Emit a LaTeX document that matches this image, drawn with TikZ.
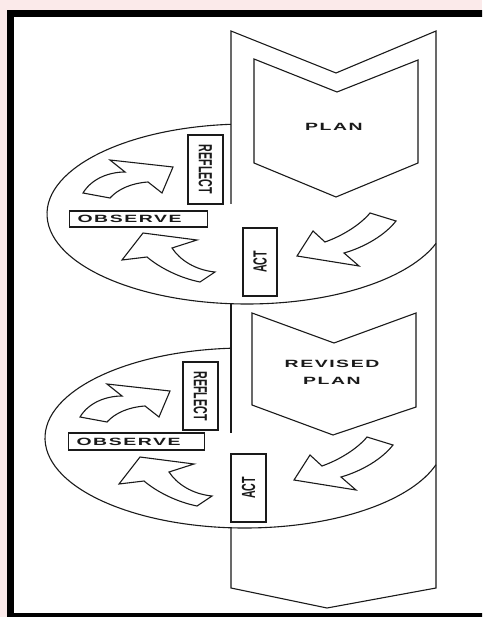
\documentclass[tikz,border=0pt]{standalone}
\usepackage{fontspec}
\usepackage{graphicx}
\usepackage{xcolor}
\usepackage{tikz}
\usetikzlibrary{calc}
\definecolor{Ink}{HTML}{1A1A1A}
\definecolor{Blush}{HTML}{FBEAEA}
\newfontfamily\widesf{Liberation Sans}[LetterSpace=8]
\newfontfamily\narrowsf{Liberation Sans}[FakeStretch=0.56]
\newcommand\widen[1]{\scalebox{1.85}[1]{#1}}
\tikzset{
  band/.style={draw=Ink, line width=1.1pt},
  blockarrow/.style={draw=Ink, line width=1.1pt, fill=white, line join=miter},
  word/.style={font=\fontsize{10.5}{17}\selectfont\widesf\bfseries, text=Ink},
  tag/.style={draw=Ink, line width=1.2pt, inner sep=0pt, text=Ink,
    font=\fontsize{19}{20}\selectfont\narrowsf\bfseries},
  obsbox/.style={draw=Ink, line width=1.2pt, anchor=west, inner xsep=8pt, inner ysep=0pt,
    align=left, text=Ink, font=\fontsize{10.5}{12}\selectfont\widesf\bfseries}
}
\begin{document}
\begin{tikzpicture}[x=1pt, y=-1pt]
  \useasboundingbox (0,0) rectangle (482,617);
  \clip (0,0) rectangle (482,617);
  \fill[Blush] (0,0) rectangle (482,617);
  \fill[white] (10,13) rectangle (490,620);
  \draw[line width=7pt] (10.5,13.5) rectangle (495,616.5);

  % the long band
  \draw[band] (231,204) -- (231,31) -- (336,73) -- (436,31) -- (436,588)
    -- (327,608) -- (231,588) -- (231,527);
  \draw[band] (231,304) -- (231,433);

  % the two loops round the band
  \coordinate (c1) at (247,214);
  \coordinate (c2) at (245,438);
  \draw[band] ($(c1)+(265.4:200 and 90)$) arc[start angle=265.4, end angle=19.1, x radius=200, y radius=90];
  \draw[band] ($(c2)+(266:200 and 90)$) arc[start angle=266, end angle=17.3, x radius=200, y radius=90];

  % plans
  \draw[band] (254,59) -- (337,92) -- (418,60) -- (418,163) -- (336,197) -- (254,163) -- cycle;
  \draw[band] (252,313) -- (334,343) -- (416,313) -- (416,407) -- (333,435) -- (252,405) -- cycle;
  \node[word] (plan) at (334,127) {\widen{PLAN}};
  \node[word, align=center] (revised) at (332,372) {\widen{REVISED}\\\widen{PLAN}};

  % steps
  \node[tag, rotate=-90, minimum width=69pt, minimum height=35pt] (reflect1) at (205.5,169.5) {REFLECT};
  \node[obsbox, text width=122pt, minimum height=16pt] (observe1) at (69,219) {\widen{OBSERVE}};
  \node[tag, rotate=90, minimum width=68pt, minimum height=34pt] (act1) at (260,262) {ACT};
  \node[tag, rotate=-90, minimum width=68pt, minimum height=35pt] (reflect2) at (200.5,396) {REFLECT};
  \node[obsbox, text width=120pt, minimum height=17pt] (observe2) at (68,441.5) {\widen{OBSERVE}};
  \node[tag, rotate=90, minimum width=68pt, minimum height=35pt] (act2) at (248.5,488) {ACT};

  % curved block arrows
  \foreach \sx/\sy in {0/0,-3/224}{
    \begin{scope}[shift={(\sx,\sy)}]
      \draw[blockarrow] (83,193) -- (110,198) .. controls (118,189) and (132,183) .. (148,182)
        -- (162,193) -- (173,167) -- (110,160) -- (125,172)
        .. controls (110,172) and (92,178) .. (83,193) -- cycle;
      \draw[blockarrow] (143,233) -- (197,240) -- (172,248)
        .. controls (180,260) and (195,270) .. (215,272) -- (200,282)
        .. controls (180,278) and (160,268) .. (147,257) -- (122,260) -- cycle;
      \draw[blockarrow] (370,213) -- (396,221) .. controls (385,235) and (365,247) .. (344,253)
        -- (359,266) -- (297,256) -- (313,231) -- (325,242)
        .. controls (342,236) and (360,225) .. (370,213) -- cycle;
    \end{scope}
  }
\end{tikzpicture}
\end{document}
